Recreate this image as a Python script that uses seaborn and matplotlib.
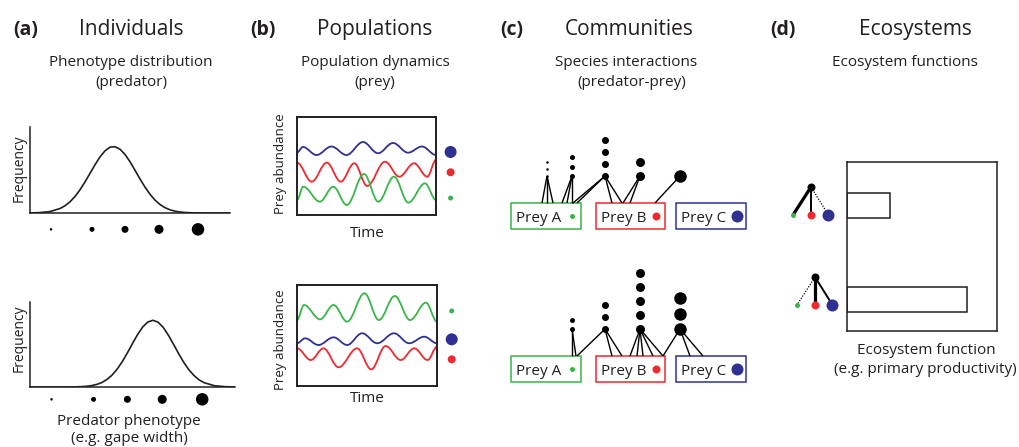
import seaborn as sns
import matplotlib.pyplot as plt
from matplotlib.path import Path
from matplotlib.patches import PathPatch, Rectangle

sns.set_theme(style='white')
plt.rcParams['font.family'] = ['Open Sans', 'DejaVu Sans']

# ==========================================
# DATA
# ==========================================

# (a) predator phenotype distributions (phenotype 0-100, frequency 0-100)
pheno = [0, 5, 10, 15, 17.5, 20, 22.5, 25, 27.5, 30, 32.5, 35, 37.5, 40, 42.5, 45,
         47.5, 50, 52.5, 55, 57.5, 60, 62.5, 65, 67.5, 70, 72.5, 75, 77.5, 80,
         82.5, 85, 90, 95, 100]
freq_before = [0.1, 0.5, 1.7, 5.2, 8.4, 13.0, 19.2, 27.0, 36.1, 46.1, 56.1, 65.2, 72.3,
               76.5, 77.1, 74.2, 68.1, 59.6, 49.7, 39.6, 30.1, 21.8, 15.0, 9.9, 6.2,
               3.7, 2.1, 1.2, 0.6, 0.3, 0.1, 0.1, 0, 0, 0]
freq_after = [0, 0, 0, 0, 0, 0.1, 0.2, 0.4, 0.8, 1.6, 3.0, 5.2, 8.8, 13.9, 20.9, 29.8,
              40.1, 51.2, 61.8, 70.7, 76.5, 78.5, 76.2, 70.1, 61.0, 50.3, 39.3, 29.0,
              20.3, 13.5, 8.4, 5.0, 1.5, 0.4, 0.1]
size_classes = [1, 2, 3, 4, 5]
class_pheno = [10.5, 31, 47.5, 64.5, 84]        # phenotype of each size class

# (b) prey abundance over time: turning points (time 0-100, abundance 0-100)
blue_t1 = [0, 4.3, 14, 24.8, 35.6, 47.5, 58.3, 69.1, 79.9, 89.9, 100]
blue_v1 = [63.8, 69.4, 61.2, 69.9, 61.2, 74.5, 63.0, 73.5, 63.6, 69.9, 61.2]
red_t1 = [0, 10.6, 21.4, 31.5, 41.2, 50.5, 63.3, 73.6, 84.2, 93.7, 100]
red_v1 = [53.4, 34.0, 53.4, 34.0, 52.8, 29.6, 54.4, 39.1, 52.8, 39.1, 56.1]
green_t1 = [0, 4.5, 16.5, 26.1, 35.8, 48.2, 58.5, 69.8, 80.1, 92.1, 100]
green_v1 = [15.3, 28.9, 13.6, 28.9, 10.2, 41.8, 13.6, 39.1, 12.6, 32.3, 15.3]

green_t2 = [0, 5, 16.5, 26.1, 35.8, 48.2, 58.5, 69.8, 80.8, 92.1, 100]
green_v2 = [65.3, 80.2, 66.0, 80.2, 63.7, 91.8, 65.3, 89.1, 65.3, 82.5, 63.7]
blue_t2 = [0, 5.8, 15.3, 26.1, 35.8, 46.5, 57.3, 69.3, 80.1, 90.9, 100]
blue_v2 = [42.3, 47.2, 40.6, 48.2, 40.6, 52.2, 42.3, 52.2, 42.3, 48.8, 42.3]
red_t2 = [0, 9.9, 18.9, 29.7, 42.9, 53, 63.3, 74.1, 83.7, 93.3, 100]
red_v2 = [37.3, 25.7, 37.3, 18.5, 37.3, 16.5, 39.6, 25.7, 37.3, 25.7, 38.9]

# mean level of each prey (legend dots right of the boxes)
prey_names = ['A', 'B', 'C']
level_before = [17.3, 43.6, 64.3]
level_after = [74.3, 26.4, 46.2]

# (c) diet of every predator individual, per size class
diet_before = {1: ['A', 'A', 'A'], 2: ['A', 'A', 'A'], 3: ['A', 'A', 'B', 'B'],
               4: ['B', 'B'], 5: ['B']}
diet_after = {2: ['A', 'A'], 3: ['A', 'B', 'B'], 4: ['B', 'B', 'B', 'B', 'B'],
              5: ['B', 'C', 'C']}

# (d) interaction strength (1 weak .. 3 strong) with prey A, B, C and function
strength_before = [3, 2, 1]
strength_after = [1, 3, 2]
scenario = ['before', 'after']
eco_function = [28.7, 80]

# ==========================================
# STYLE / LAYOUT (pixels of a 1019 x 447 canvas)
# ==========================================
W, H = 1019, 447
INK = '#231f20'
PREY_COL = {'A': '#39b54a', 'B': '#ee2a30', 'C': '#2e3192'}
PREY_DIAM = {'A': 5, 'B': 8, 'C': 12}
CLASS_DIAM = {1: 2.5, 2: 5, 3: 7, 4: 9, 5: 12.5}
CLASS_STEP = {1: 7, 2: 9.5, 3: 12, 4: 14, 5: 15.5}
CLASS_X = {1: 547, 2: 572, 3: 605, 4: 640, 5: 680}
BOX_X = {'A': (511, 581), 'B': (596, 665), 'C': (676, 746)}
LINK_X_BEFORE = {1: [542, 547, 553], 2: [562, 567, 572], 3: [573, 577, 612, 622],
                 4: [623, 630], 5: [655]}
LINK_X_AFTER = {2: [572, 576], 3: [577, 612, 622], 4: [630, 637, 643, 653, 663],
                5: [663, 690, 703]}


def area(d_px):
    return (d_px * 0.72) ** 2


fig = plt.figure(figsize=(W / 100, H / 100), dpi=100)


def px_axes(x0, y0, x1, y1, **kw):
    return fig.add_axes([x0 / W, 1 - y1 / H, (x1 - x0) / W, (y1 - y0) / H], **kw)


def wave_path(t, v, k=0.36):
    verts, codes = [(t[0], v[0])], [Path.MOVETO]
    for i in range(len(t) - 1):
        dt = t[i + 1] - t[i]
        verts += [(t[i] + k * dt, v[i]), (t[i + 1] - k * dt, v[i + 1]), (t[i + 1], v[i + 1])]
        codes += [Path.CURVE4] * 3
    return Path(verts, codes)


# ---- (a) phenotype distributions ----
for box, freq, dot_y in [((30, 127, 230, 213), freq_before, -19),
                         ((30, 302, 235, 387), freq_after, -14.5)]:
    ax = px_axes(*box)
    sns.lineplot(x=pheno, y=freq, color=INK, linewidth=1.2, ax=ax)
    sns.scatterplot(x=class_pheno, y=[dot_y] * len(class_pheno),
                    s=[area(CLASS_DIAM[c]) for c in size_classes],
                    color='black', linewidth=0, clip_on=False, legend=False, ax=ax)
    ax.set_xlim(0, 100)
    ax.set_ylim(0, 100)
    ax.set(xticks=[], yticks=[], xlabel='', ylabel='')
    sns.despine(ax=ax)
    for s in ['left', 'bottom']:
        ax.spines[s].set_linewidth(1.1)
        ax.spines[s].set_color(INK)
    ax.patch.set_alpha(0)

# ---- (b) population dynamics ----
series_b = [
    [(blue_t1, blue_v1, 'C'), (red_t1, red_v1, 'B'), (green_t1, green_v1, 'A')],
    [(green_t2, green_v2, 'A'), (blue_t2, blue_v2, 'C'), (red_t2, red_v2, 'B')],
]
for box, series, levels in [((297, 117, 436, 215), series_b[0], level_before),
                            ((297, 285, 437, 386), series_b[1], level_after)]:
    ax = px_axes(*box)
    for t, v, p in series:
        ax.add_patch(PathPatch(wave_path(t, v), fill=False, ec=PREY_COL[p], lw=1.3))
    sns.scatterplot(x=[110.5] * 3, y=levels, hue=prey_names, palette=PREY_COL,
                    s=[area(PREY_DIAM[p]) for p in prey_names], linewidth=0,
                    clip_on=False, legend=False, ax=ax)
    ax.set_xlim(0, 100)
    ax.set_ylim(0, 100)
    ax.set(xticks=[], yticks=[], xlabel='', ylabel='')
    for s in ax.spines.values():
        s.set_linewidth(1.4)
        s.set_color(INK)
    ax.patch.set_alpha(0)

# ---- (d) ecosystem function bars ----
axd = px_axes(847, 162, 997, 331)
sns.barplot(x=eco_function, y=scenario, orient='h', color='white', edgecolor=INK,
            linewidth=1.1, width=0.266, errorbar=None, ax=axd)
axd.set_xlim(0, 100)
axd.set_ylim(1.335, -0.463)
axd.set(xticks=[], yticks=[], xlabel='', ylabel='')
for s in axd.spines.values():
    s.set_linewidth(1.1)
    s.set_color(INK)

# ---- overlay for diagrams and text ----
ov = fig.add_axes([0, 0, 1, 1], zorder=5)
ov.set_xlim(0, W)
ov.set_ylim(H, 0)
ov.axis('off')
ov.patch.set_alpha(0)

# (c) communities
for diet, link_x, base_y in [(diet_before, LINK_X_BEFORE, 176),
                             (diet_after, LINK_X_AFTER, 329)]:
    box_top = base_y + 27
    for p, (x0, x1) in BOX_X.items():
        ov.add_patch(Rectangle((x0, box_top), x1 - x0, 25.6, fill=False,
                               ec=PREY_COL[p], lw=1.1))
        ov.text(x0 + 5, box_top + 18.8, f'Prey {p}', fontsize=11, color=INK,
                ha='left', va='baseline')
        ov.scatter([x1 - 9], [box_top + 12.8], s=area(PREY_DIAM[p]),
                   color=PREY_COL[p], linewidth=0)
    for c, prey in diet.items():
        cx = CLASS_X[c]
        for xa in link_x[c]:
            ov.plot([cx, xa], [base_y, box_top], color='black', lw=1.0,
                    solid_capstyle='butt')
        ys = [base_y - k * CLASS_STEP[c] for k in range(len(prey))]
        ov.scatter([cx] * len(ys), ys, s=area(CLASS_DIAM[c]), color='black',
                   linewidth=0, zorder=3)

# (d) mini food webs
for strength, wx, py in [(strength_before, 811, 187), (strength_after, 815, 277)]:
    for p, st, dx in zip(prey_names, strength, [-18, 0, 17.5]):
        if st == 1:
            ov.plot([wx, wx + dx], [py, py + 28], color='black', lw=0.9,
                    linestyle=(0, (1, 1.2)))
        else:
            ov.plot([wx, wx + dx], [py, py + 28], color='black',
                    lw={2: 1.4, 3: 2.3}[st], solid_capstyle='butt')
        ov.scatter([wx + dx], [py + 28], s=area(PREY_DIAM[p]), color=PREY_COL[p],
                   linewidth=0, zorder=3)
    ov.scatter([wx], [py], s=area(8), color='black', linewidth=0, zorder=3)

# ---- text ----
for x, lab in [(13, '(a)'), (250, '(b)'), (500, '(c)'), (770, '(d)')]:
    ov.text(x, 35, lab, fontsize=14, fontweight='bold', color=INK,
            ha='left', va='baseline')
for x, lab in [(131, 'Individuals'), (375, 'Populations'), (629, 'Communities'),
               (915, 'Ecosystems')]:
    ov.text(x, 35, lab, fontsize=15, color=INK, ha='center', va='baseline')
for x, y, lab in [(131, 66, 'Phenotype distribution'), (131, 85.5, '(predator)'),
                  (375, 66, 'Population dynamics'), (375, 85.5, '(prey)'),
                  (626, 66, 'Species interactions'), (632, 85.5, '(predator-prey)'),
                  (905, 66, 'Ecosystem functions'),
                  (129, 425, 'Predator phenotype'), (129, 442, '(e.g. gape width)'),
                  (367, 236.7, 'Time'), (367, 401.7, 'Time'),
                  (926, 354, 'Ecosystem function'),
                  (925, 373, '(e.g. primary productivity)')]:
    ov.text(x, y, lab, fontsize=11, color=INK, ha='center', va='baseline')
for x, y, lab, fs in [(19, 168, 'Frequency', 10), (19, 338, 'Frequency', 10),
                      (281, 164, 'Prey abundance', 9.5), (281, 340, 'Prey abundance', 9.5)]:
    ov.text(x, y, lab, fontsize=fs, color=INK, ha='center', va='center', rotation=90)

fig.savefig('out.png', dpi=100, facecolor='white')
